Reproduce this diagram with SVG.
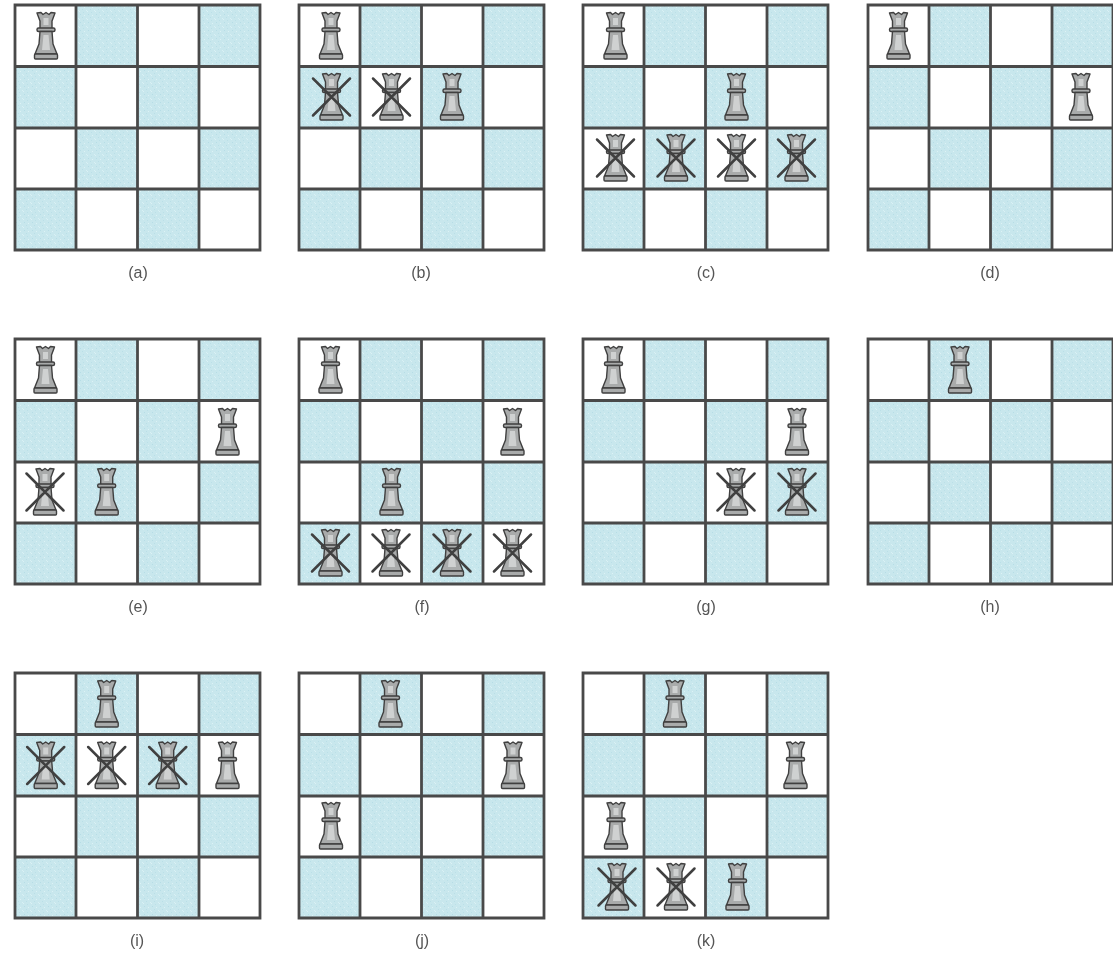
<svg xmlns="http://www.w3.org/2000/svg" width="1113" height="960" viewBox="0 0 1113 960">
<style>
.bl{fill:url(#sp)}
.gr{fill:none;stroke:#4a4a4a;stroke-width:2.8}
.qb{fill:#a9abab;stroke:#3f3f3f;stroke-width:1.4;stroke-linejoin:round}
.ql{fill:#cfd1d1;stroke:none}
.x{stroke:#404040;stroke-width:2.5;stroke-linecap:round}
.lb{font-family:"Liberation Sans",Arial,sans-serif;font-size:16px;fill:#555;text-anchor:middle}
.soft{filter:url(#soft)}
</style>
<defs>
<filter id="soft" x="-5%" y="-5%" width="110%" height="110%"><feGaussianBlur stdDeviation="0.45"/></filter>
<pattern id="sp" width="8" height="8" patternUnits="userSpaceOnUse">
<rect width="8" height="8" fill="#c8e7ed"/>
<rect x="1" y="1" width="1" height="1" fill="#b6dde6"/><rect x="5" y="2" width="1" height="1" fill="#dcf2f5"/>
<rect x="3" y="4" width="1" height="1" fill="#b9dfe7"/><rect x="7" y="5" width="1" height="1" fill="#d8f0f4"/>
<rect x="0" y="6" width="1" height="1" fill="#dbf1f5"/><rect x="4" y="7" width="1" height="1" fill="#bbe0e8"/>
</pattern>
<g id="board">
<rect x="0" y="0" width="245" height="245" fill="#fff"/>
<rect class="bl" x="61" y="0" width="61.5" height="61"/><rect class="bl" x="184" y="0" width="61" height="61"/>
<rect class="bl" x="0" y="61" width="61" height="61.5"/><rect class="bl" x="122.500" y="61" width="61.500" height="61.500"/>
<rect class="bl" x="61" y="122.500" width="61.500" height="61.500"/><rect class="bl" x="184" y="122.500" width="61" height="61.500"/>
<rect class="bl" x="0" y="184" width="61" height="61"/><rect class="bl" x="122.500" y="184" width="61.500" height="61"/>
<path class="gr" d="M0,0H245V245H0ZM61,0V245M122.500,0V245M184,0V245M0,61.500H245M0,123H245M0,184H245"/>
</g>
<g id="q">
<path class="qb" d="M-9,-23L-5,-23.500L-3,-21.500L0,-23.500L3,-21.500L5,-23.500L9,-23L6,-15L6,-7L-6,-7L-6,-15Z"/>
<rect class="qb" x="-9" y="-8" width="18" height="3.500" rx="1.500"/>
<path class="qb" d="M-6,-4.500L6,-4.500L7,8L11,18L-11,18L-7,8Z"/>
<path class="ql" d="M-2.500,-18H2.500V-11H-2.500ZM-2.500,-1H2.500L4,14H-4Z"/>
<rect class="qb" x="-11.500" y="18" width="23" height="5" rx="1"/>
</g>
<g id="k">
<use href="#q"/>
<path class="x" d="M-18.500,-18.500L18.500,18.500M18.500,-18.500L-18.500,18.500"/>
</g>
</defs>
<rect width="1113" height="960" fill="#fff"/>
<g id="board-a" class="soft" transform="translate(15,5)"><use href="#board"/><use href="#q" x="31" y="31"/></g>
<g id="board-b" class="soft" transform="translate(299,5)"><use href="#board"/><use href="#q" x="32" y="31"/><use href="#k" x="32.500" y="92"/><use href="#k" x="92.500" y="92"/><use href="#q" x="153" y="92"/></g>
<g id="board-c" class="soft" transform="translate(583,5)"><use href="#board"/><use href="#q" x="32.500" y="31"/><use href="#q" x="153.500" y="92"/><use href="#k" x="32.500" y="153"/><use href="#k" x="93" y="153"/><use href="#k" x="153.500" y="153"/><use href="#k" x="213.500" y="153"/></g>
<g id="board-d" class="soft" transform="translate(868,5)"><use href="#board"/><use href="#q" x="30.500" y="31"/><use href="#q" x="213" y="92"/></g>
<g id="board-e" class="soft" transform="translate(15,339)"><use href="#board"/><use href="#q" x="30.500" y="31"/><use href="#q" x="212.500" y="93"/><use href="#k" x="30" y="153"/><use href="#q" x="91.700" y="153"/></g>
<g id="board-f" class="soft" transform="translate(299,339)"><use href="#board"/><use href="#q" x="31.500" y="31"/><use href="#q" x="213.500" y="93"/><use href="#q" x="92.500" y="153"/><use href="#k" x="31.500" y="214"/><use href="#k" x="92" y="214"/><use href="#k" x="153" y="214"/><use href="#k" x="213.500" y="214"/></g>
<g id="board-g" class="soft" transform="translate(583,339)"><use href="#board"/><use href="#q" x="30.500" y="31"/><use href="#q" x="214" y="93"/><use href="#k" x="153" y="153"/><use href="#k" x="214" y="153"/></g>
<g id="board-h" class="soft" transform="translate(868,339)"><use href="#board"/><use href="#q" x="92" y="31"/></g>
<g id="board-i" class="soft" transform="translate(15,673)"><use href="#board"/><use href="#q" x="91.700" y="31"/><use href="#k" x="30.700" y="92.500"/><use href="#k" x="91.700" y="92.500"/><use href="#k" x="152.700" y="92.500"/><use href="#q" x="212.500" y="92.500"/></g>
<g id="board-j" class="soft" transform="translate(299,673)"><use href="#board"/><use href="#q" x="91.500" y="31"/><use href="#q" x="214" y="92.500"/><use href="#q" x="32" y="153"/></g>
<g id="board-k" class="soft" transform="translate(583,673)"><use href="#board"/><use href="#q" x="92" y="31"/><use href="#q" x="212.500" y="92.500"/><use href="#q" x="33" y="153"/><use href="#k" x="34" y="214"/><use href="#k" x="93" y="214"/><use href="#q" x="154.500" y="214"/></g>
<g id="connectors"/>
<g id="labels" class="soft">
<text class="lb" x="138" y="278">(a)</text><text class="lb" x="421" y="278">(b)</text><text class="lb" x="706" y="278">(c)</text><text class="lb" x="990" y="278">(d)</text>
<text class="lb" x="138" y="612">(e)</text><text class="lb" x="422" y="612">(f)</text><text class="lb" x="706" y="612">(g)</text><text class="lb" x="990" y="612">(h)</text>
<text class="lb" x="137" y="946">(i)</text><text class="lb" x="422" y="946">(j)</text><text class="lb" x="706" y="946">(k)</text>
</g>
</svg>
